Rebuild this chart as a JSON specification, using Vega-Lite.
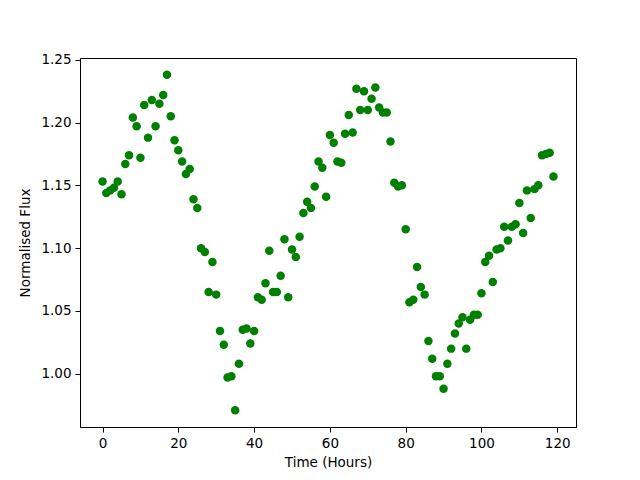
{
  "$schema": "https://vega.github.io/schema/vega-lite/v6.json",
  "width": 496,
  "height": 369,
  "autosize": {"type": "none"},
  "padding": {"left": 80, "top": 58, "right": 64, "bottom": 53},
  "background": "white",
  "config": {
    "view": {"stroke": "black", "strokeWidth": 1},
    "axis": {
      "grid": false,
      "domainColor": "black",
      "tickColor": "black",
      "tickSize": 5,
      "labelFont": "DejaVu Sans",
      "titleFont": "DejaVu Sans",
      "labelFontSize": 13.5,
      "titleFontSize": 13.5,
      "titleFontWeight": "normal",
      "labelColor": "black",
      "titleColor": "black",
      "labelPadding": 4
    }
  },
  "data": {
    "values": [
      {"t":0,"f":1.153},{"t":1,"f":1.144},{"t":2,"f":1.146},{"t":3,"f":1.148},{"t":4,"f":1.153},
      {"t":5,"f":1.143},{"t":6,"f":1.167},{"t":7,"f":1.174},{"t":8,"f":1.204},{"t":9,"f":1.197},
      {"t":10,"f":1.172},{"t":11,"f":1.214},{"t":12,"f":1.188},{"t":13,"f":1.218},{"t":14,"f":1.197},
      {"t":15,"f":1.215},{"t":16,"f":1.222},{"t":17,"f":1.238},{"t":18,"f":1.205},{"t":19,"f":1.186},
      {"t":20,"f":1.178},{"t":21,"f":1.169},{"t":22,"f":1.159},{"t":23,"f":1.163},{"t":24,"f":1.139},
      {"t":25,"f":1.132},{"t":26,"f":1.100},{"t":27,"f":1.097},{"t":28,"f":1.065},{"t":29,"f":1.089},
      {"t":30,"f":1.063},{"t":31,"f":1.034},{"t":32,"f":1.023},{"t":33,"f":0.997},{"t":34,"f":0.998},
      {"t":35,"f":0.971},{"t":36,"f":1.008},{"t":37,"f":1.035},{"t":38,"f":1.036},{"t":39,"f":1.024},
      {"t":40,"f":1.034},{"t":41,"f":1.061},{"t":42,"f":1.059},{"t":43,"f":1.072},{"t":44,"f":1.098},
      {"t":45,"f":1.065},{"t":46,"f":1.065},{"t":47,"f":1.078},{"t":48,"f":1.107},{"t":49,"f":1.061},
      {"t":50,"f":1.099},{"t":51,"f":1.093},{"t":52,"f":1.109},{"t":53,"f":1.128},{"t":54,"f":1.137},
      {"t":55,"f":1.132},{"t":56,"f":1.149},{"t":57,"f":1.169},{"t":58,"f":1.164},{"t":59,"f":1.141},
      {"t":60,"f":1.190},{"t":61,"f":1.184},{"t":62,"f":1.169},{"t":63,"f":1.168},{"t":64,"f":1.191},
      {"t":65,"f":1.206},{"t":66,"f":1.192},{"t":67,"f":1.227},{"t":68,"f":1.210},{"t":69,"f":1.225},
      {"t":70,"f":1.210},{"t":71,"f":1.219},{"t":72,"f":1.228},{"t":73,"f":1.212},{"t":74,"f":1.208},
      {"t":75,"f":1.208},{"t":76,"f":1.185},{"t":77,"f":1.152},{"t":78,"f":1.149},{"t":79,"f":1.150},
      {"t":80,"f":1.115},{"t":81,"f":1.057},{"t":82,"f":1.059},{"t":83,"f":1.085},{"t":84,"f":1.069},
      {"t":85,"f":1.063},{"t":86,"f":1.026},{"t":87,"f":1.012},{"t":88,"f":0.998},{"t":89,"f":0.998},
      {"t":90,"f":0.988},{"t":91,"f":1.008},{"t":92,"f":1.020},{"t":93,"f":1.032},{"t":94,"f":1.040},
      {"t":95,"f":1.045},{"t":96,"f":1.020},{"t":97,"f":1.043},{"t":98,"f":1.047},{"t":99,"f":1.047},
      {"t":100,"f":1.064},{"t":101,"f":1.089},{"t":102,"f":1.094},{"t":103,"f":1.073},{"t":104,"f":1.099},
      {"t":105,"f":1.100},{"t":106,"f":1.117},{"t":107,"f":1.106},{"t":108,"f":1.117},{"t":109,"f":1.119},
      {"t":110,"f":1.136},{"t":111,"f":1.112},{"t":112,"f":1.146},{"t":113,"f":1.124},{"t":114,"f":1.147},
      {"t":115,"f":1.150},{"t":116,"f":1.174},{"t":117,"f":1.175},{"t":118,"f":1.176},{"t":119,"f":1.157}
    ]
  },
  "mark": {"type": "point", "filled": true, "shape": "circle", "size": 72, "color": "#008000", "opacity": 1},
  "encoding": {
    "x": {
      "field": "t", "type": "quantitative", "title": "Time (Hours)",
      "scale": {"domain": [-5.95, 124.95], "nice": false, "zero": false},
      "axis": {"values": [0, 20, 40, 60, 80, 100, 120], "titlePadding": 6}
    },
    "y": {
      "field": "f", "type": "quantitative", "title": "Normalised Flux",
      "scale": {"domain": [0.9576, 1.2514], "nice": false, "zero": false},
      "axis": {"values": [1.0, 1.05, 1.1, 1.15, 1.2, 1.25], "format": ".2f", "titlePadding": 8}
    }
  }
}
